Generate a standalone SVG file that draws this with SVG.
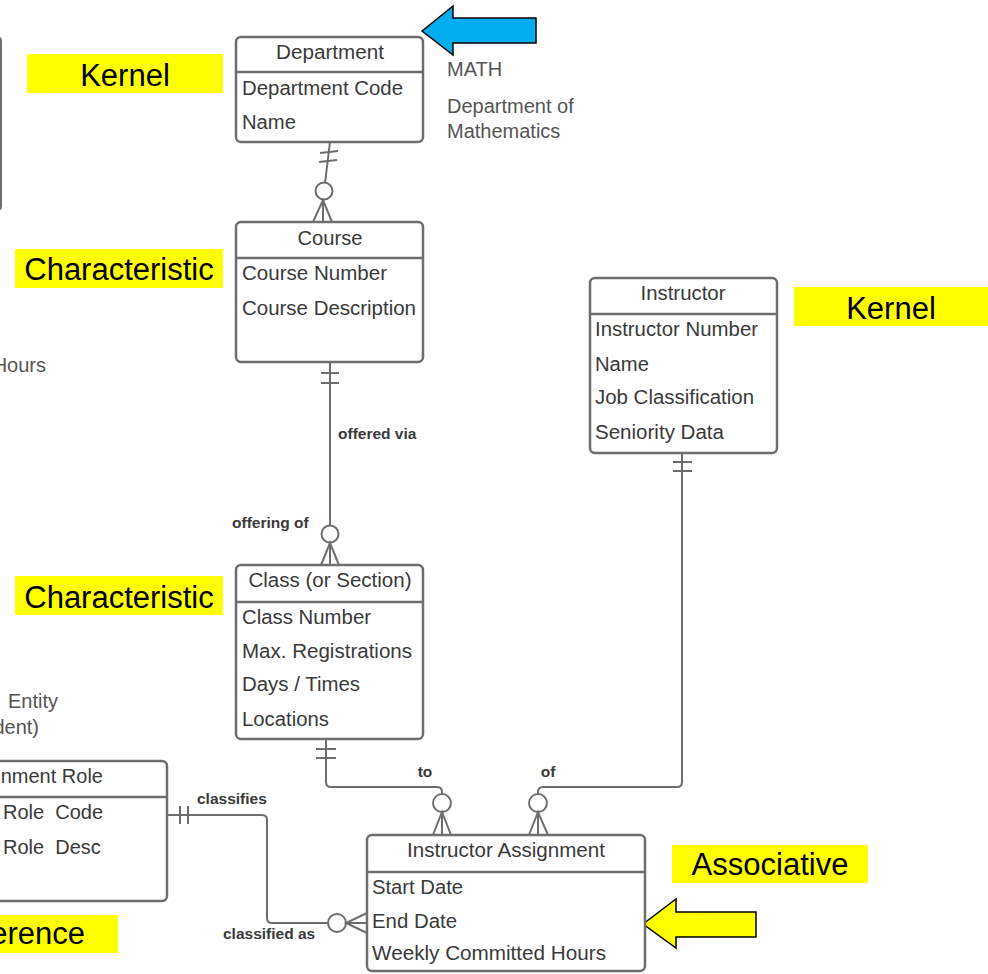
<svg xmlns="http://www.w3.org/2000/svg" width="988" height="974" viewBox="0 0 988 974">
<style>
.box{fill:#fff;stroke:#6e6e6e;stroke-width:2.5}
.dv{stroke:#6e6e6e;stroke-width:2.5}
.t{font-family:"Liberation Sans",Arial,sans-serif;font-size:20px;fill:#3a3a3a}
.c{text-anchor:middle}
.e{text-anchor:end}
.side{font-family:"Liberation Sans",Arial,sans-serif;font-size:20px;fill:#555}
.lbl{font-family:"Liberation Sans",Arial,sans-serif;font-size:15.5px;font-weight:bold;fill:#3a3a3a}
.hl{fill:#ffff00}
.ht{font-family:"Liberation Sans",Arial,sans-serif;font-size:31px;fill:#000}
.ln{fill:none;stroke:#6e6e6e;stroke-width:2}
.ci{fill:#fff;stroke:#6e6e6e;stroke-width:2}
.arw{stroke:#000;stroke-width:1.5}
</style>

<!-- partial box at left edge -->
<path class="ln" d="M-10 37 H-3 Q1 37 1 41 V206 Q1 210 -3 210 H-10" stroke-width="2.5"/>

<!-- side texts -->
<text class="side" x="447" y="76">MATH</text>
<text class="side" x="447" y="113">Department of</text>
<text class="side" x="447" y="138">Mathematics</text>
<text class="side e" x="46" y="372">Hours</text>
<text class="side" x="8" y="708">Entity</text>
<text class="side e" x="39" y="734">dent)</text>

<!-- highlight labels -->
<g id="lbl-kernel1"><rect class="hl" x="27" y="54" width="196" height="39"/><text class="ht c" x="125" y="86">Kernel</text></g>
<g id="lbl-char1"><rect class="hl" x="15" y="249" width="208" height="39"/><text class="ht c" x="119" y="280">Characteristic</text></g>
<g id="lbl-kernel2"><rect class="hl" x="794" y="287" width="194" height="39"/><text class="ht c" x="891" y="319">Kernel</text></g>
<g id="lbl-char2"><rect class="hl" x="15" y="576" width="208" height="39"/><text class="ht c" x="119" y="608">Characteristic</text></g>
<g id="lbl-assoc"><rect class="hl" x="672" y="845" width="196" height="38"/><text class="ht c" x="770" y="875">Associative</text></g>
<g id="lbl-ref"><rect class="hl" x="0" y="915" width="118" height="38"/><text class="ht e" x="85" y="944">erence</text></g>

<!-- arrows -->
<polygon class="arw" fill="#00aeef" points="422,31 453,6 453,18 536,18 536,43 453,43 453,55"/>
<polygon class="arw" fill="#ffff00" points="643,924 676,899 676,912 756,912 756,937 676,937 676,948"/>

<!-- connectors -->
<g id="connectors">
  <!-- Department - Course -->
  <line class="ln" x1="330" y1="142" x2="325" y2="183"/>
  <line class="ln" x1="320" y1="153" x2="338" y2="151"/>
  <line class="ln" x1="319" y1="162" x2="337" y2="160"/>
  <circle class="ci" cx="324" cy="191" r="8.5"/>
  <path class="ln" d="M313 222 L323 200 L332 222 M323 200 V222"/>

  <!-- Course - Class -->
  <line class="ln" x1="330" y1="362" x2="330" y2="525.5"/>
  <line class="ln" x1="321" y1="373" x2="339" y2="373"/>
  <line class="ln" x1="321" y1="383" x2="339" y2="383"/>
  <circle class="ci" cx="330" cy="534" r="8.5"/>
  <path class="ln" d="M321 565 L330 543 L339 565 M330 543 V565"/>
  <text class="lbl" x="338" y="439">offered via</text>
  <text class="lbl" x="232" y="528">offering of</text>

  <!-- Class - Instructor Assignment -->
  <path class="ln" d="M326 739 V782 Q326 787 331 787 H437 Q442 787 442 792 V794"/>
  <line class="ln" x1="316" y1="749" x2="336" y2="749"/>
  <line class="ln" x1="316" y1="758" x2="336" y2="758"/>
  <circle class="ci" cx="442" cy="803" r="9"/>
  <path class="ln" d="M433 835 L442 812 L451 835 M442 812 V835"/>
  <text class="lbl c" x="425" y="777">to</text>

  <!-- Instructor - Instructor Assignment -->
  <path class="ln" d="M682 453 V782 Q682 787 677 787 H543 Q538 787 538 792 V794"/>
  <line class="ln" x1="673" y1="462" x2="692" y2="462"/>
  <line class="ln" x1="673" y1="471" x2="692" y2="471"/>
  <circle class="ci" cx="538" cy="803" r="9"/>
  <path class="ln" d="M529 835 L538 812 L548 835 M538 812 V835"/>
  <text class="lbl c" x="548" y="777">of</text>

  <!-- Assignment Role - Instructor Assignment -->
  <path class="ln" d="M167 815 H262 Q267 815 267 820 V918 Q267 923 272 923 H328"/>
  <line class="ln" x1="180" y1="806" x2="180" y2="824"/>
  <line class="ln" x1="188" y1="806" x2="188" y2="824"/>
  <circle class="ci" cx="337" cy="923" r="9"/>
  <path class="ln" d="M367 913 L346 923 L367 933 M346 923 H367"/>
  <text class="lbl" x="197" y="804">classifies</text>
  <text class="lbl" x="223" y="939">classified as</text>
</g>

<!-- nodes -->
<g id="department">
  <rect class="box" x="236" y="37" width="187" height="105" rx="5"/>
  <line class="dv" x1="236" y1="72" x2="423" y2="72"/>
  <text class="t c" x="330" y="59" textLength="108" lengthAdjust="spacingAndGlyphs">Department</text>
  <text class="t" x="242" y="95" textLength="161" lengthAdjust="spacingAndGlyphs">Department Code</text>
  <text class="t" x="242" y="129" textLength="54" lengthAdjust="spacingAndGlyphs">Name</text>
</g>

<g id="course">
  <rect class="box" x="236" y="222" width="187" height="140" rx="5"/>
  <line class="dv" x1="236" y1="258" x2="423" y2="258"/>
  <text class="t c" x="330" y="245" textLength="65" lengthAdjust="spacingAndGlyphs">Course</text>
  <text class="t" x="242" y="280" textLength="145" lengthAdjust="spacingAndGlyphs">Course Number</text>
  <text class="t" x="242" y="315" textLength="174" lengthAdjust="spacingAndGlyphs">Course Description</text>
</g>

<g id="instructor">
  <rect class="box" x="590" y="278" width="187" height="175" rx="5"/>
  <line class="dv" x1="590" y1="314" x2="777" y2="314"/>
  <text class="t c" x="683" y="300" textLength="85" lengthAdjust="spacingAndGlyphs">Instructor</text>
  <text class="t" x="595" y="336" textLength="163" lengthAdjust="spacingAndGlyphs">Instructor Number</text>
  <text class="t" x="595" y="371" textLength="54" lengthAdjust="spacingAndGlyphs">Name</text>
  <text class="t" x="595" y="404" textLength="159" lengthAdjust="spacingAndGlyphs">Job Classification</text>
  <text class="t" x="595" y="439" textLength="129" lengthAdjust="spacingAndGlyphs">Seniority Data</text>
</g>

<g id="class">
  <rect class="box" x="236" y="565" width="187" height="174" rx="5"/>
  <line class="dv" x1="236" y1="602" x2="423" y2="602"/>
  <text class="t c" x="330" y="587" textLength="163" lengthAdjust="spacingAndGlyphs">Class (or Section)</text>
  <text class="t" x="242" y="624" textLength="129" lengthAdjust="spacingAndGlyphs">Class Number</text>
  <text class="t" x="242" y="658" textLength="170" lengthAdjust="spacingAndGlyphs">Max. Registrations</text>
  <text class="t" x="242" y="691" textLength="118" lengthAdjust="spacingAndGlyphs">Days / Times</text>
  <text class="t" x="242" y="726" textLength="87" lengthAdjust="spacingAndGlyphs">Locations</text>
</g>

<g id="instructor-assignment">
  <rect class="box" x="367" y="835" width="278" height="136" rx="5"/>
  <line class="dv" x1="367" y1="872" x2="645" y2="872"/>
  <text class="t c" x="506" y="857" textLength="198" lengthAdjust="spacingAndGlyphs">Instructor Assignment</text>
  <text class="t" x="372" y="894" textLength="91" lengthAdjust="spacingAndGlyphs">Start Date</text>
  <text class="t" x="372" y="928" textLength="85" lengthAdjust="spacingAndGlyphs">End Date</text>
  <text class="t" x="372" y="960" textLength="234" lengthAdjust="spacingAndGlyphs">Weekly Committed Hours</text>
</g>

<g id="assignment-role">
  <rect class="box" x="-20" y="761" width="187" height="140" rx="5"/>
  <line class="dv" x1="-20" y1="797" x2="167" y2="797"/>
  <text class="t e" x="103" y="783">nnment Role</text>
  <text class="t" x="3" y="819" xml:space="preserve">Role  Code</text>
  <text class="t" x="3" y="854" xml:space="preserve">Role  Desc</text>
</g>
</svg>
